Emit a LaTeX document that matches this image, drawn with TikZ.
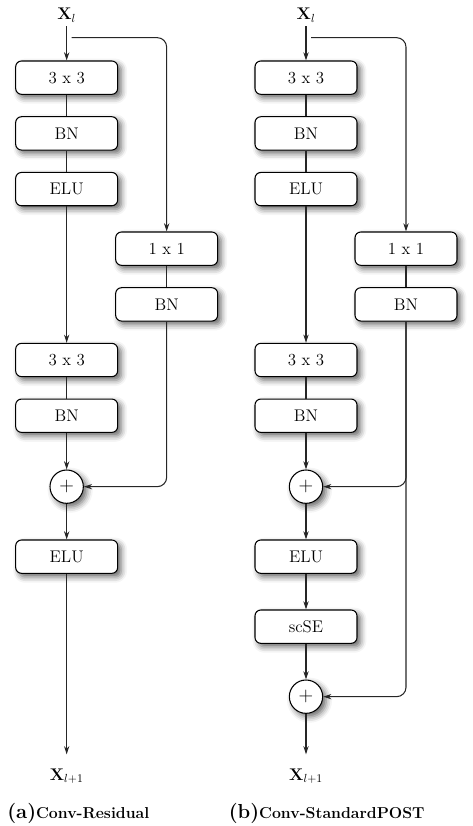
\documentclass[tikz,border=0pt]{standalone}
\usepackage{amsmath}
\usepackage{tikz}
\usetikzlibrary{shapes,arrows.meta,positioning,calc,shadows.blur}

\begin{document}
\begin{tikzpicture}[
    block/.style={
        rectangle,
        rounded corners=5pt,
        minimum width=3.06cm,
        minimum height=1cm,
        align=center,
        font=\Large,
        draw,
        fill=white,
        line width=0.9pt,
        blur shadow={shadow xshift=3pt, shadow yshift=-3pt, shadow blur radius=5pt, shadow opacity=60}
    },
    addnode/.style={
        circle,
        minimum size=1cm,
        inner sep=0pt,
        font=\LARGE,
        draw,
        fill=white,
        line width=0.9pt,
        blur shadow={shadow xshift=3pt, shadow yshift=-3pt, shadow blur radius=5pt, shadow opacity=60}
    },
    lbl/.style={font=\Large},
    line/.style={line width=0.9pt,black!85},
    arrow/.style={-{Stealth[length=7pt,width=4.5pt]},line width=0.9pt,black!85,rounded corners=8pt}
]
    \useasboundingbox (0,0) rectangle (14.16,-24.78);

    % (a) Conv-Residual
    \node[lbl] (xinA) at (2,-0.45) {$\mathbf{X}_l$};
    \node[block] (convA1) at (2,-2.33) {3 x 3};
    \node[block, below=0.64cm of convA1] (bnA1) {BN};
    \node[block, below=0.64cm of bnA1] (eluA1) {ELU};
    \node[block] (skipA) at (5,-7.46) {1 x 1};
    \node[block, below=0.64cm of skipA] (skipbnA) {BN};
    \node[block] (convA2) at (2,-10.8) {3 x 3};
    \node[block, below=0.64cm of convA2] (bnA2) {BN};
    \node[addnode] (addA) at (2,-14.6) {$+$};
    \node[block] (eluA2) at (2,-16.7) {ELU};
    \node[lbl] (xoutA) at (2,-23.28) {$\mathbf{X}_{l+1}$};
    \coordinate (splitA) at (2.15,-1.13);

    % (b) Conv-StandardPOST
    \node[lbl] (xinB) at (9.18,-0.45) {$\mathbf{X}_l$};
    \node[block] (convB1) at (9.18,-2.33) {3 x 3};
    \node[block, below=0.64cm of convB1] (bnB1) {BN};
    \node[block, below=0.64cm of bnB1] (eluB1) {ELU};
    \node[block] (skipB) at (12.18,-7.46) {1 x 1};
    \node[block, below=0.64cm of skipB] (skipbnB) {BN};
    \node[block] (convB2) at (9.18,-10.8) {3 x 3};
    \node[block, below=0.64cm of convB2] (bnB2) {BN};
    \node[addnode] (addB1) at (9.18,-14.6) {$+$};
    \node[block] (eluB2) at (9.18,-16.7) {ELU};
    \node[block] (scseB) at (9.18,-18.8) {scSE};
    \node[addnode] (addB2) at (9.18,-20.9) {$+$};
    \node[lbl] (xoutB) at (9.18,-23.28) {$\mathbf{X}_{l+1}$};
    \coordinate (splitB) at (9.33,-1.13);

    % Connections (a)
    \draw[arrow] (xinA) -- (convA1);
    \draw[line] (convA1) -- (bnA1);
    \draw[line] (bnA1) -- (eluA1);
    \draw[arrow] (eluA1) -- (convA2);
    \draw[line] (convA2) -- (bnA2);
    \draw[arrow] (bnA2) -- (addA);
    \draw[arrow] (addA) -- (eluA2);
    \draw[arrow, shorten >=0.3cm] (eluA2) -- (xoutA);
    \draw[arrow] (splitA) -| (skipA);
    \draw[line] (skipA) -- (skipbnA);
    \draw[arrow] (skipbnA.south) |- (addA.east);

    % Connections (b)
    \draw[arrow] (xinB) -- (convB1);
    \draw[line] (convB1) -- (bnB1);
    \draw[line] (bnB1) -- (eluB1);
    \draw[arrow] (eluB1) -- (convB2);
    \draw[line] (convB2) -- (bnB2);
    \draw[arrow] (bnB2) -- (addB1);
    \draw[arrow] (addB1) -- (eluB2);
    \draw[arrow] (eluB2) -- (scseB);
    \draw[arrow] (scseB) -- (addB2);
    \draw[arrow, shorten >=0.3cm] (addB2) -- (xoutB);
    \draw[arrow] (splitB) -| (skipB);
    \draw[line] (skipB) -- (skipbnB);
    \draw[arrow] (skipbnB.south) |- (addB1.east);
    \draw[arrow] (skipbnB.south) |- (addB2.east);

    % Captions
    \node (capA) at (2.35,-24.4) {\textbf{\LARGE (a)}\textbf{\fontsize{13.5}{16}\selectfont Conv-Residual}};
    \node (capB) at (9.8,-24.4) {\textbf{\LARGE (b)}\textbf{\fontsize{13.5}{16}\selectfont Conv-StandardPOST}};
\end{tikzpicture}
\end{document}
